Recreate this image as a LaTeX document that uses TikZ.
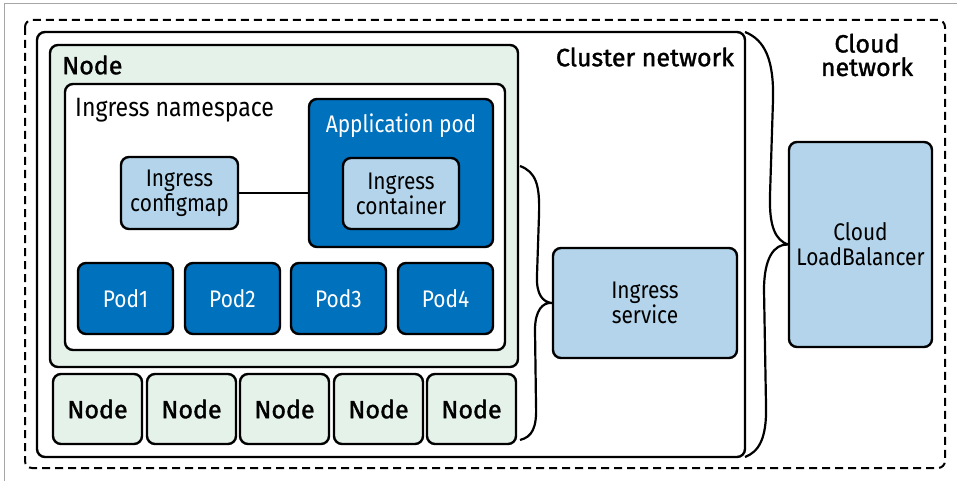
\documentclass[tikz,border=0pt]{standalone}
\usepackage{fontspec}
\setmainfont{Fira Sans}[FakeStretch=0.87]
\newfontfamily\medfont{Fira Sans}[FakeBold=1.4]
\definecolor{nodegreen}{HTML}{E4F2EA}
\definecolor{podblue}{HTML}{0071BC}
\definecolor{lightblue}{HTML}{B3D4EA}
\begin{document}
\begin{tikzpicture}[x=1pt,y=-1pt,
  box/.style={draw=black,line width=2.4pt,rounded corners=8pt},
  greenbox/.style={box,fill=nodegreen},
  darkbox/.style={box,fill=podblue},
  lightbox/.style={box,fill=lightblue},
  whitebox/.style={box,fill=white},
  txt/.style={font=\fontsize{24}{25}\selectfont,align=center,inner sep=0pt},
  wtxt/.style={txt,text=white},
  btxt/.style={font=\medfont\fontsize{25}{23.5}\selectfont,align=center,inner sep=0pt},
  brace/.style={draw=black,line width=2.2pt,line join=round}]
\useasboundingbox (0,0) rectangle (957,481);
\fill[white] (0,0) rectangle (957,481);
\draw[gray!70,line width=1pt] (4,481) -- (4,4) -- (957,4);
% outer dashed cloud
\draw[line width=2pt,dash pattern=on 8pt off 5pt,rounded corners=7pt] (25,20) rectangle (945,468);
% cluster network
\draw[box] (37,32) rectangle (745,457);
% big node
\draw[greenbox] (50,45) rectangle (518,367);
\draw[whitebox] (65,84) rectangle (505,350);
\node[btxt,anchor=west] (nodelbl) at (62,65) {Node};
\node[txt,font=\fontsize{26.5}{28}\selectfont,anchor=west] (nslbl) at (75,110) {Ingress namespace};
% application pod
\draw[darkbox] (309,99) rectangle (493,247);
\node[wtxt] (applbl) at (401,126) {Application pod};
\node[lightbox,minimum width=116pt,minimum height=71pt,txt] (cont) at (401,193.5) {Ingress\\container};
\node[lightbox,minimum width=117pt,minimum height=72pt,txt] (cfg) at (179.5,193) {Ingress\\configmap};
\coordinate (apl) at (309,193);
\draw[line width=2.2pt] (cfg.east) -- (apl);
% pods
\foreach \i/\x in {1/125.5,2/232.5,3/338.5,4/445.5}{
  \node[darkbox,minimum width=95pt,minimum height=71pt,wtxt] (pod\i) at (\x,298.5) {Pod\i};
}
% small nodes
\foreach \i/\x in {1/97.5,2/191.5,3/284.5,4/378.5,5/471.5}{
  \node[greenbox,minimum width=89pt,minimum height=70pt,btxt] (n\i) at (\x,409) {Node};
}
% ingress service
\node[lightbox,minimum width=184pt,minimum height=110pt,txt] (svc) at (645,303) {Ingress\\service};
% cloud LB
\node[lightbox,minimum width=143pt,minimum height=205pt,txt] (lb) at (860.5,244.5) {Cloud\\LoadBalancer};
% labels
\node[btxt] (cluslbl) at (645,57) {Cluster network};
\node[btxt] (cloudlbl) at (867,55) {Cloud\\network};
% braces
\coordinate (b1t) at (520,166);
\coordinate (b1b) at (520,440);
\draw[brace] (b1t) .. controls (536,172) and (540,185) .. (539,215) -- (537,275)
  .. controls (536,295) and (543,302) .. (svc.west)
  .. controls (543,302) and (535,310) .. (535,330) -- (536,405)
  .. controls (537,428) and (532,437) .. (b1b);
\coordinate (b2t) at (745,32);
\coordinate (b2b) at (745,457);
\draw[brace] (b2t) .. controls (765,40) and (774,60) .. (773,100) -- (770,195)
  .. controls (769,228) and (776,240) .. (lb.west)
  .. controls (774,244) and (764,258) .. (764,290) -- (766,405)
  .. controls (767,440) and (758,452) .. (b2b);
\end{tikzpicture}
\end{document}
